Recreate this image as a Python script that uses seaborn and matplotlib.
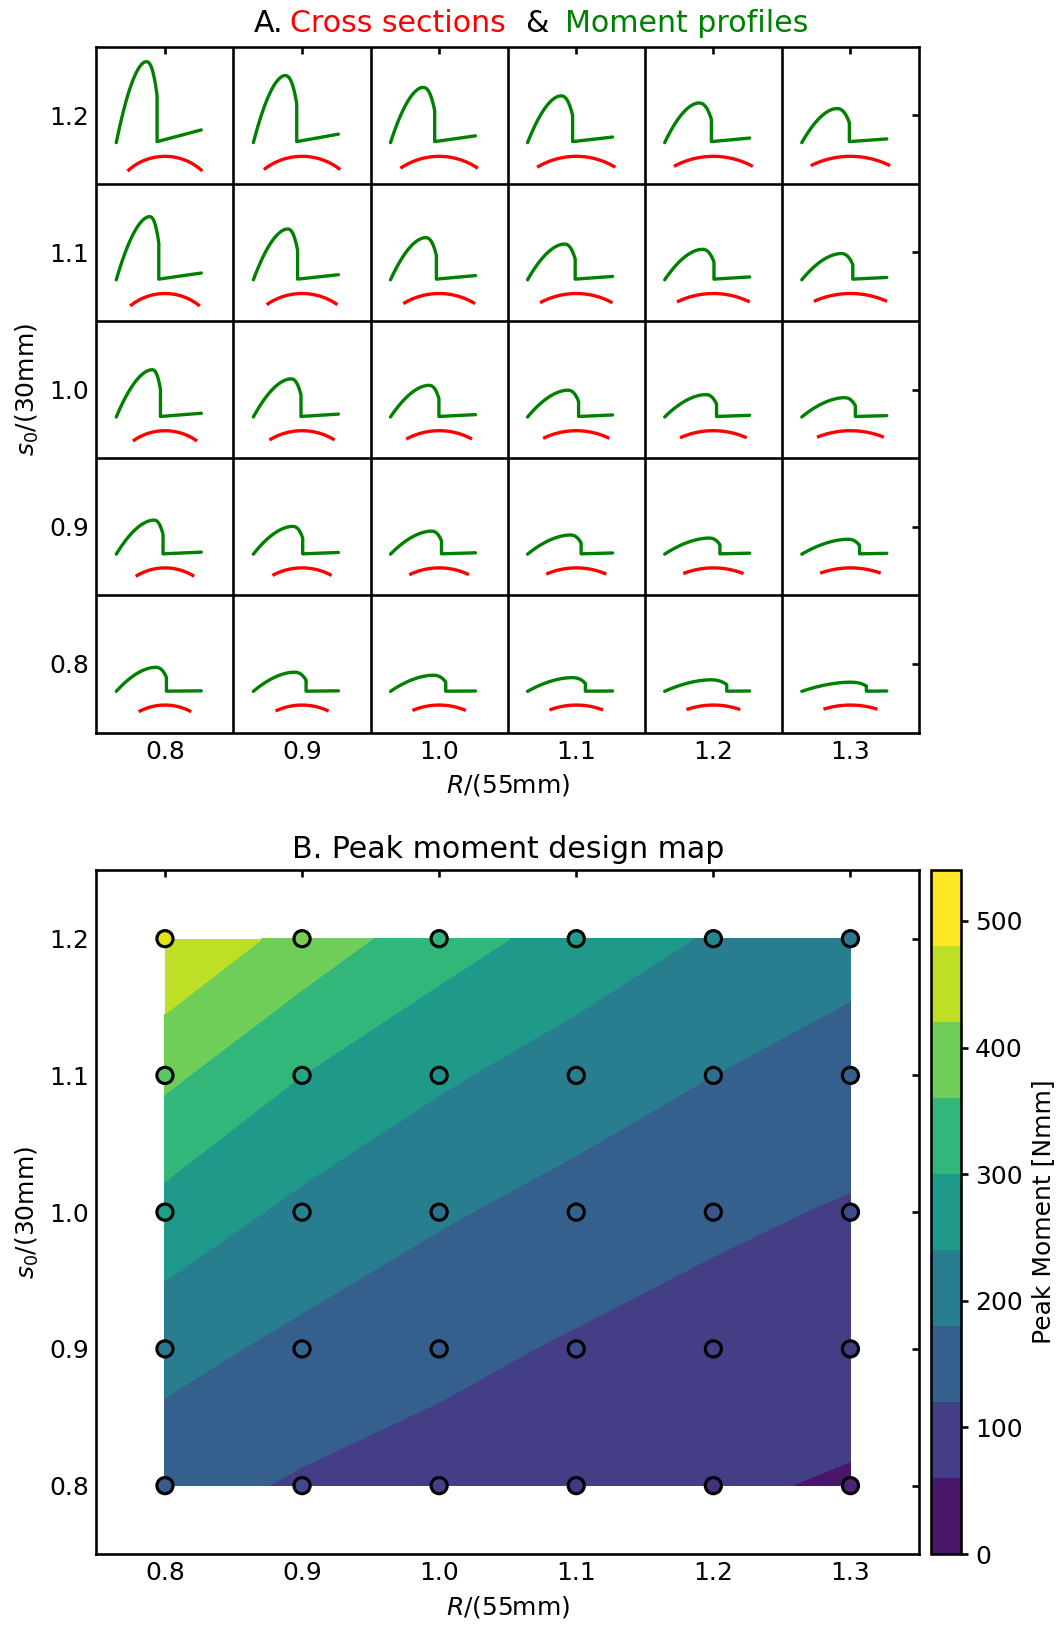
import numpy as np
import matplotlib
matplotlib.use("Agg")
import matplotlib.pyplot as plt
from matplotlib.colors import Normalize
import seaborn as sns
import pandas as pd

# ---------------- data ----------------
R_vals = [0.8, 0.9, 1.0, 1.1, 1.2, 1.3]          # R/(55mm)
s_vals = [0.8, 0.9, 1.0, 1.1, 1.2]               # s0/(30mm)

# peak moment [Nmm], rows follow s_vals, columns follow R_vals
peak_moment = [
    [142, 113,  95,  81,  68,  54],
    [201, 164, 136, 113,  95,  88],
    [279, 225, 187, 158, 132, 114],
    [373, 300, 249, 211, 180, 155],
    [478, 396, 326, 276, 234, 201],
]
# normalised rotation at which the peak moment is reached
peak_rot = [
    [0.46, 0.48, 0.50, 0.52, 0.54, 0.57],
    [0.44, 0.46, 0.48, 0.50, 0.52, 0.54],
    [0.42, 0.44, 0.45, 0.47, 0.48, 0.50],
    [0.39, 0.40, 0.41, 0.43, 0.44, 0.46],
    [0.35, 0.37, 0.38, 0.39, 0.40, 0.41],
]
# normalised rotation of the snap (sudden moment drop)
snap_rot = [
    [0.59, 0.62, 0.65, 0.68, 0.73, 0.76],
    [0.55, 0.58, 0.60, 0.63, 0.65, 0.68],
    [0.52, 0.56, 0.57, 0.60, 0.61, 0.63],
    [0.50, 0.52, 0.54, 0.56, 0.58, 0.60],
    [0.48, 0.51, 0.52, 0.53, 0.55, 0.56],
]
# moment right after the snap and at the end of the rotation [Nmm]
post_moment = [
    [1, 1, 1, 1, 1, 1],
    [2, 2, 2, 2, 2, 2],
    [3, 3, 3, 3, 3, 3],
    [4, 4, 4, 4, 4, 4],
    [6, 6, 6, 6, 6, 6],
]
end_moment = [
    [3, 3, 2, 2, 2, 2],
    [12, 10, 8, 7, 6, 5],
    [22, 17, 14, 12, 10, 8],
    [40, 30, 25, 20, 17, 14],
    [75, 50, 40, 33, 27, 22],
]
cbar_ticks = [0, 100, 200, 300, 400, 500]
contour_levels = [0, 60, 120, 180, 240, 300, 360, 420, 480, 540]
color_range = (0, 500)

# ---------------- style ----------------
sns.set_theme(context="notebook", style="white", rc={
    "axes.edgecolor": "black", "axes.linewidth": 1.25,
    "xtick.color": "black", "ytick.color": "black",
    "text.color": "black", "axes.labelcolor": "black",
    "xtick.major.size": 3.5, "ytick.major.size": 3.5,
    "xtick.major.width": 1.25, "ytick.major.width": 1.25,
    "xtick.labelsize": 12, "ytick.labelsize": 12,
    "axes.labelsize": 12, "axes.titlesize": 14.4,
})
plt.rcParams["font.family"] = ["DejaVu Sans"]

W, H = 1063, 1625
fig = plt.figure(figsize=(W / 150, H / 150), dpi=150)

def fax(x0, y0, x1, y1):
    return [x0 / W, 1 - y1 / H, (x1 - x0) / W, (y1 - y0) / H]

axA = fig.add_axes(fax(96.4, 46.6, 919, 732.5))
axB = fig.add_axes(fax(96.4, 870.3, 919, 1554))
cax = fig.add_axes(fax(930.5, 870.3, 960.5, 1554))

M = np.array(peak_moment, dtype=float)
Mmax = M.max()

# ---------------- panel A ----------------
for ax in (axA, axB):
    ax.set_xlim(0.75, 1.35)
    ax.set_ylim(0.75, 1.25)
    ax.set_xticks(R_vals)
    ax.set_yticks(s_vals)
    ax.tick_params(direction="in", top=True, right=True, length=3.5, width=1.25)
    ax.set_xlabel(r"$R$/(55mm)")
    ax.set_ylabel(r"$s_0$/(30mm)")

for xm in [0.85, 0.95, 1.05, 1.15, 1.25]:
    axA.axvline(xm, color="black", lw=1.25, zorder=3)
for ym in [0.85, 0.95, 1.05, 1.15]:
    axA.axhline(ym, color="black", lw=1.25, zorder=3)

for i, s in enumerate(s_vals):
    for j, R in enumerate(R_vals):
        # cross section: circular arc of radius R and length s
        half = s / (2 * R)
        phi = np.linspace(-half, half, 60)
        ax_x = R + 0.05 * R * np.sin(phi)
        ax_y = s - 0.03 + 0.05 * R * (np.cos(phi) - 1)
        axA.plot(ax_x, ax_y, color="red", lw=1.6, solid_capstyle="butt")

        # moment profile
        Mp = peak_moment[i][j]
        tp = peak_rot[i][j]
        td = snap_rot[i][j]
        t1 = np.linspace(0, tp, 40)
        m1 = Mp * (1 - (1 - t1 / tp) ** 1.8)
        t2 = np.linspace(tp, td, 30)
        u = (t2 - tp) / (td - tp)
        m2 = Mp * (1 - 0.42 * u ** 2.5)
        t3 = np.array([td, td, 1.0])
        m3 = np.array([m2[-1], post_moment[i][j], end_moment[i][j]])
        tt = np.concatenate([t1, t2, t3])
        mm = np.concatenate([m1, m2, m3])
        px = R - 0.0355 + 0.062 * tt
        py = s - 0.02 + 0.059 * mm / Mmax
        axA.plot(px, py, color="green", lw=1.6)

# colored title for panel A
ty = 1 - 32 / H
fig.text(253.8 / W, ty, "A.", fontsize=14.4, color="black", va="baseline")
fig.text(290 / W, ty, "Cross sections", fontsize=14.4, color="red", va="baseline")
fig.text(525 / W, ty, "&", fontsize=14.4, color="black", va="baseline")
fig.text(564.6 / W, ty, "Moment profiles", fontsize=14.4, color="green", va="baseline")

# ---------------- panel B ----------------
RR, SS = np.meshgrid(R_vals, s_vals)
norm = Normalize(vmin=color_range[0], vmax=color_range[1])
cs = axB.contourf(RR, SS, M, levels=contour_levels, cmap="viridis", norm=norm)
df = pd.DataFrame({"R": RR.ravel(), "s": SS.ravel(), "M": M.ravel()})
sns.scatterplot(data=df, x="R", y="s", hue="M", palette="viridis",
                hue_norm=color_range, legend=False, s=60,
                edgecolor="black", linewidth=1.5, ax=axB, zorder=5)
axB.set_xlabel(r"$R$/(55mm)")
axB.set_ylabel(r"$s_0$/(30mm)")
axB.set_title("B. Peak moment design map")

cb = fig.colorbar(cs, cax=cax, ticks=cbar_ticks)
cb.set_label("Peak Moment [Nmm]", fontsize=12)
cb.outline.set_linewidth(1.25)
cax.tick_params(labelsize=12, length=3.5, width=1.25)

fig.savefig("out.png", dpi=150)
